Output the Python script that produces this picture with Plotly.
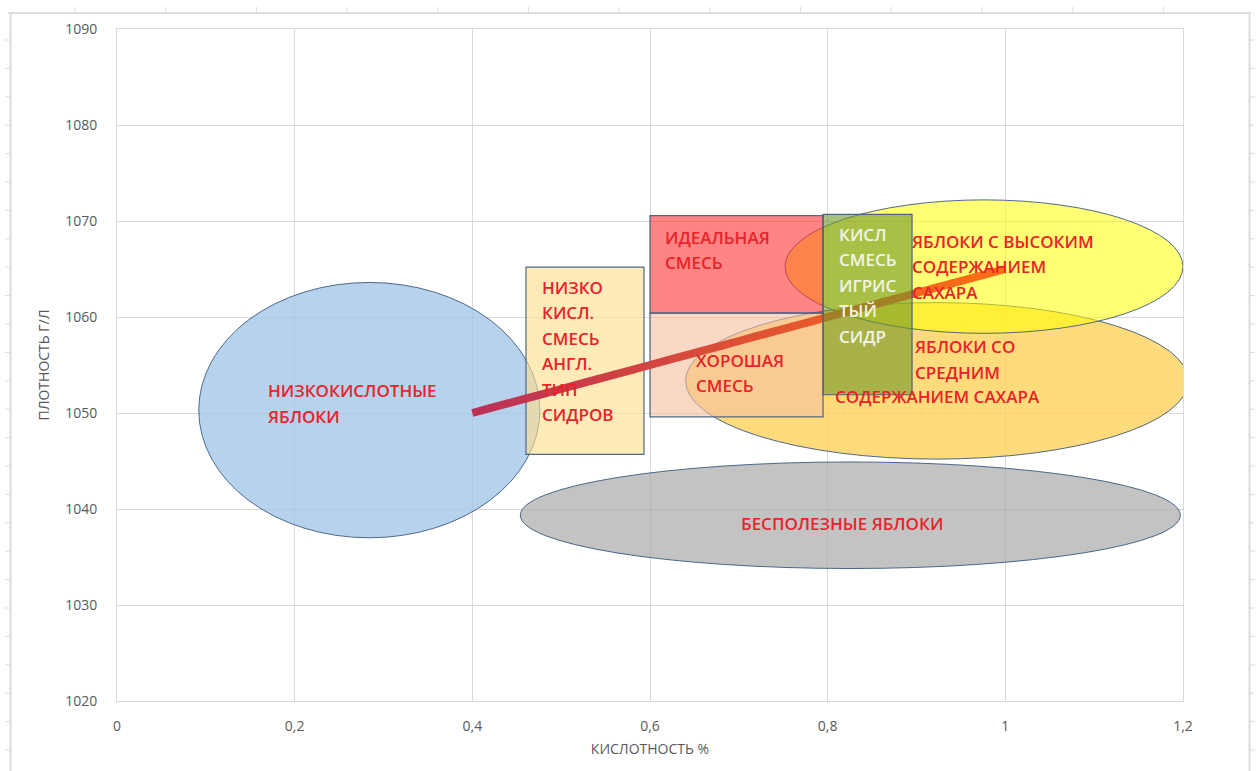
import plotly.graph_objects as go

# ---- axes -------------------------------------------------------------
x_tick_vals = [0, 0.2, 0.4, 0.6, 0.8, 1.0, 1.2]
x_tick_text = ["0", "0,2", "0,4", "0,6", "0,8", "1", "1,2"]
y_tick_vals = [1020, 1030, 1040, 1050, 1060, 1070, 1080, 1090]

# ---- apple zones drawn as ellipses -------------------------------------
ellipse_x0 = [0.092, 0.454, 0.640, 0.752]
ellipse_x1 = [0.476, 1.197, 1.206, 1.200]
ellipse_y0 = [1037.0, 1033.8, 1045.2, 1058.3]
ellipse_y1 = [1063.6, 1044.9, 1061.5, 1072.2]
ellipse_fill = ["rgba(157,195,230,0.75)", "rgba(170,170,170,0.70)",
                "rgba(255,210,90,0.80)", "rgba(255,255,0,0.55)"]

# ---- blend zones drawn as rectangles ------------------------------------
box_x0 = [0.4604, 0.600, 0.600, 0.7948]
box_x1 = [0.5932, 0.7948, 0.7948, 0.895]
box_y0 = [1045.7, 1060.4, 1049.6, 1051.9]
box_y1 = [1065.2, 1070.55, 1060.4, 1070.7]
box_fill = ["rgba(255,222,140,0.62)", "rgba(255,50,50,0.60)",
            "rgba(245,190,160,0.60)", "rgba(112,150,40,0.60)"]
# the sparkling-cider box sits over the trend line, the others beneath it
box_layer = ["between", "between", "between", "above"]

# ---- blending trend line ------------------------------------------------
trend_x = [0.4, 1.0]
trend_y = [1050, 1065]

# ---- zone captions: (lines, x, y of first line, colour, anchor) ---------
RED = "#E8232A"
WHITE = "#F2F4E6"
captions = [
    (["НИЗКОКИСЛОТНЫЕ", "ЯБЛОКИ"], 0.168, 1052.3, RED, "left"),
    (["НИЗКО", "КИСЛ.", "СМЕСЬ", "АНГЛ.", "ТИП", "СИДРОВ"], 0.476, 1063.1, RED, "left"),
    (["ИДЕАЛЬНАЯ", "СМЕСЬ"], 0.615, 1068.3, RED, "left"),
    (["ХОРОШАЯ", "СМЕСЬ"], 0.649, 1055.5, RED, "left"),
    (["КИСЛ", "СМЕСЬ", "ИГРИС", "ТЫЙ", "СИДР"], 0.810, 1068.6, WHITE, "left"),
    (["ЯБЛОКИ С ВЫСОКИМ", "СОДЕРЖАНИЕМ", "САХАРА"], 0.893, 1067.9, RED, "left"),
    (["ЯБЛОКИ СО", "СРЕДНИМ"], 0.896, 1056.9, RED, "left"),
    (["СОДЕРЖАНИЕМ САХАРА"], 0.806, 1051.7, RED, "left"),
    (["БЕСПОЛЕЗНЫЕ ЯБЛОКИ"], 0.816, 1038.5, RED, "center"),
]
LINE_PITCH = 25.5  # px between caption lines

FONT = "Open Sans"
OUTLINE = "rgba(60,90,130,0.9)"

fig = go.Figure()

# gradient stroke for the trend line, built as short pieces
n_pieces = 30
c0 = (188, 48, 88)
c1 = (255, 112, 18)
for i in range(n_pieces):
    t0 = i / n_pieces
    t1 = (i + 1.05) / n_pieces if i < n_pieces - 1 else 1.0
    tm = (i + 0.5) / n_pieces
    col = "rgb({},{},{})".format(*[round(a + (b - a) * tm) for a, b in zip(c0, c1)])
    xs = [trend_x[0] + (trend_x[1] - trend_x[0]) * t for t in (t0, t1)]
    ys = [trend_y[0] + (trend_y[1] - trend_y[0]) * t for t in (t0, t1)]
    fig.add_trace(go.Scatter(x=xs, y=ys, mode="lines",
                             line=dict(color=col, width=8),
                             hoverinfo="skip", showlegend=False))

shapes = []
for x0, x1, y0, y1, fc in zip(ellipse_x0, ellipse_x1, ellipse_y0, ellipse_y1, ellipse_fill):
    shapes.append(dict(type="circle", xref="x", yref="y", x0=x0, x1=x1, y0=y0, y1=y1,
                       fillcolor=fc, line=dict(color=OUTLINE, width=1), layer="between"))
for x0, x1, y0, y1, fc, lay in zip(box_x0, box_x1, box_y0, box_y1, box_fill, box_layer):
    shapes.append(dict(type="rect", xref="x", yref="y", x0=x0, x1=x1, y0=y0, y1=y1,
                       fillcolor=fc, line=dict(color=OUTLINE, width=1.2), layer=lay))

# light sheet frame around the chart (pixel positions converted to paper units)
L, R, T, B = 117, 76, 29, 70
W, H = 1259, 771
PW, PH = W - L - R, H - T - B


def px(xp):
    return (xp - L) / PW


def py(yp):
    return (H - B - yp) / PH


FRAME = "#DCDCDC"
shapes.append(dict(type="line", xref="paper", yref="paper", x0=px(8), x1=px(1251),
                   y0=py(13), y1=py(13), line=dict(color=FRAME, width=2)))
shapes.append(dict(type="line", xref="paper", yref="paper", x0=px(10.5), x1=px(10.5),
                   y0=py(13), y1=py(771), line=dict(color=FRAME, width=2)))
shapes.append(dict(type="line", xref="paper", yref="paper", x0=px(1249.5), x1=px(1249.5),
                   y0=py(13), y1=py(771), line=dict(color=FRAME, width=2)))
xt = 75.0
while xt < 1250:
    shapes.append(dict(type="line", xref="paper", yref="paper", x0=px(xt), x1=px(xt),
                       y0=py(7), y1=py(13), line=dict(color=FRAME, width=1)))
    xt += 90.7
yt = 40.0
while yt < 771:
    shapes.append(dict(type="line", xref="paper", yref="paper", x0=px(5), x1=px(10),
                       y0=py(yt), y1=py(yt), line=dict(color=FRAME, width=1)))
    shapes.append(dict(type="line", xref="paper", yref="paper", x0=px(1250), x1=px(1255),
                       y0=py(yt), y1=py(yt), line=dict(color=FRAME, width=1)))
    yt += 28.4

annotations = []
for lines, x, y, col, anchor in captions:
    for k, txt in enumerate(lines):
        annotations.append(dict(x=x, y=y, xref="x", yref="y", text=txt, showarrow=False,
                                xanchor=anchor, yanchor="middle", yshift=-k * LINE_PITCH,
                                font=dict(family=FONT, size=17, color=col, weight=600)))

fig.update_layout(
    width=W, height=H,
    margin=dict(l=L, r=R, t=T, b=B),
    paper_bgcolor="white", plot_bgcolor="white",
    shapes=shapes, annotations=annotations,
    showlegend=False,
    font=dict(family=FONT, color="#595959"),
    xaxis=dict(range=[0, 1.2], tickvals=x_tick_vals, ticktext=x_tick_text,
               showgrid=True, gridcolor="#D9D9D9", gridwidth=1, zeroline=False,
               showline=True, linecolor="#D9D9D9", mirror=True, ticks="",
               ticklabelstandoff=12,
               tickfont=dict(size=14, color="#595959"),
               title=dict(text="КИСЛОТНОСТЬ %", font=dict(size=14, color="#595959"),
                          standoff=10),
               automargin=False, fixedrange=True),
    yaxis=dict(range=[1020, 1090], tickvals=y_tick_vals,
               showgrid=True, gridcolor="#D9D9D9", gridwidth=1, zeroline=False,
               showline=True, linecolor="#D9D9D9", mirror=True, ticks="",
               ticklabelstandoff=16,
               tickfont=dict(size=14, color="#595959"),
               title=dict(text="ПЛОТНОСТЬ Г/Л", font=dict(size=14, color="#595959"),
                          standoff=12),
               automargin=False, fixedrange=True),
)

fig.write_html("out.html")
